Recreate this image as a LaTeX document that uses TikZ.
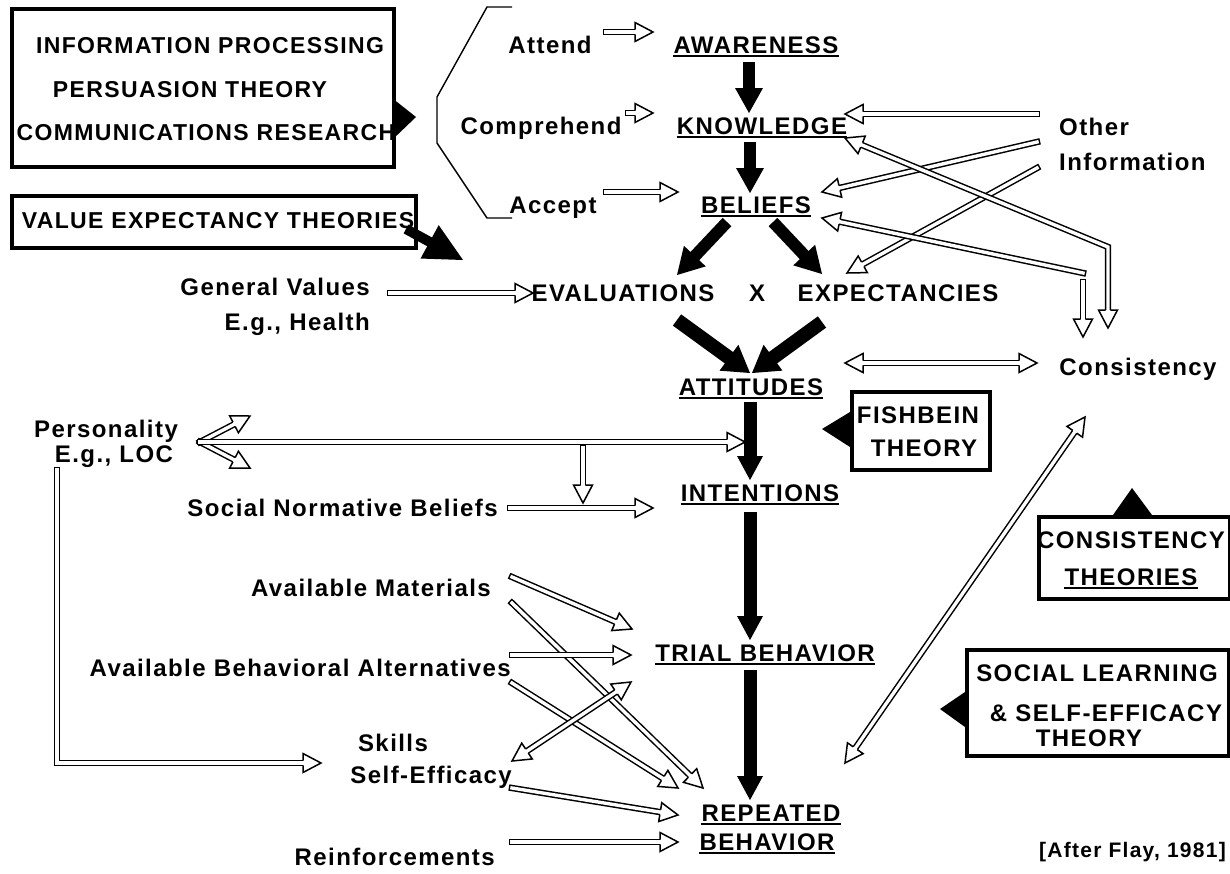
\documentclass[tikz,border=0pt]{standalone}
\usepackage{fontspec}
\usetikzlibrary{calc}
\newfontfamily\labfont[LetterSpace=6]{Liberation Sans}

\pgfdeclarelayer{paper}
\pgfdeclarelayer{links}
\pgfsetlayers{paper,links,main}

% open (outlined) arrow head: tip #1, pointing away from #2
\newcommand\openhead[2]{%
  \coordinate (hb) at ($(#1)!18pt!(#2)$);
  \fill[white] ($(hb)!9.5pt!90:(#1)$) -- (#1) -- ($(hb)!9.5pt!-90:(#1)$) -- cycle;
  \draw[hline] ($(hb)!2.45pt!90:(#1)$) -- ($(hb)!9.5pt!90:(#1)$) -- (#1)
     -- ($(hb)!9.5pt!-90:(#1)$) -- ($(hb)!2.45pt!-90:(#1)$);
}
% double-line arrow from #1 to #2
\newcommand\openarrow[2]{%
  \draw[dbl, shorten >=18pt] (#1) -- (#2);
  \openhead{#2}{#1}%
}
% double-line arrow with a head at both ends
\newcommand\bothopen[2]{%
  \draw[dbl, shorten >=18pt, shorten <=18pt] (#1) -- (#2);
  \openhead{#2}{#1}\openhead{#1}{#2}%
}
% solid arrow: from, to, stem width, head length, head half width
\newcommand\solidarrow[5]{%
  \coordinate (sb) at ($(#2)!#4!(#1)$);
  \draw[line width=#3] (#1) -- ($(#2)!#4-1pt!(#1)$);
  \fill ($(sb)!#5!90:(#2)$) -- (#2) -- ($(sb)!#5!-90:(#2)$) -- cycle;
}

\begin{document}
\begin{tikzpicture}[x=1pt,y=-1pt,
  lb/.style={font=\labfont\bfseries\fontsize{24}{27}\selectfont, inner sep=0pt},
  bx/.style={font=\labfont\bfseries\fontsize{23}{26}\selectfont, inner sep=0pt},
  bxr/.style={font=\labfont\bfseries\fontsize{24}{27}\selectfont, inner sep=0pt},
  note/.style={font=\labfont\bfseries\fontsize{21}{24}\selectfont, inner sep=0pt},
  theorybox/.style={draw, line width=3.5pt, inner sep=0pt, anchor=north west},
  dbl/.style={double, double distance=3.4pt, line width=1.5pt, line cap=rect},
  hline/.style={line width=1.5pt, line join=miter},
  uline/.style={line width=1.7pt},
  thinline/.style={line width=1.4pt}]

\begin{pgfonlayer}{paper}
  \fill[white] (0,0) rectangle (1230,873);
\end{pgfonlayer}
\useasboundingbox (0,0) rectangle (1230,873);

% ---------- theory boxes ----------
\node[theorybox, minimum width=382pt, minimum height=158pt] (ipbox) at (10,7) {};
\node[theorybox, minimum width=404pt, minimum height=52pt] (vebox) at (10,194) {};
\node[theorybox, minimum width=138pt, minimum height=78pt] (fbbox) at (850,390) {};
\node[theorybox, minimum width=191pt, minimum height=82pt] (ctbox) at (1037,515) {};
\node[theorybox, minimum width=262pt, minimum height=106pt] (slbox) at (965,648) {};

\node[bx, anchor=base] (ip1) at (210,53) {INFORMATION PROCESSING};
\node[bx, anchor=base] (ip2) at (190,97) {PERSUASION THEORY};
\node[bx, anchor=base] (ip3) at (206,140) {COMMUNICATIONS RESEARCH};
\node[bx, anchor=base] (ve1) at (218,228) {VALUE EXPECTANCY THEORIES};
\node[bxr, anchor=base] (fb1) at (918,423) {FISHBEIN};
\node[bxr, anchor=base] (fb2) at (924,456) {THEORY};
\node[bxr, anchor=base] (ct1) at (1131,548) {CONSISTENCY};
\node[bxr, anchor=base] (ct2) at (1131,585) {THEORIES};
\node[bxr, anchor=base] (sl1) at (1097,681) {SOCIAL LEARNING};
\node[bxr, anchor=base] (sl2) at (1106,721) {\& SELF-EFFICACY};
\node[bxr, anchor=base] (sl3) at (1089,746) {THEORY};
\node[note, anchor=base east] (cite) at (1226,857) {[After Flay, 1981]};

% pointers of the theory boxes
\fill (392,98) -- (416,117) -- (392,140) -- cycle;
\fill (850,412) -- (822,429) -- (850,447) -- cycle;
\fill (1113,515) -- (1132,488) -- (1152,515) -- cycle;
\fill (965,692) -- (940,709) -- (965,727) -- cycle;

% bracket of the information-processing steps
\draw[thinline] (512,7) -- (487,7) -- (437,97) -- (437,143) -- (487,218) -- (512,218);

% ---------- labels ----------
\node[lb, anchor=base] (attend) at (550,53) {Attend};
\node[lb, anchor=base] (aware) at (756,53) {AWARENESS};
\node[lb, anchor=base] (compr) at (541,134) {Comprehend};
\node[lb, anchor=base] (know) at (762,134) {KNOWLEDGE};
\node[lb, anchor=base] (accept) at (553,213) {Accept};
\node[lb, anchor=base] (belief) at (756,213) {BELIEFS};
\node[lb, anchor=base] (evals) at (623,301) {EVALUATIONS};
\node[lb, anchor=base] (times) at (757,301) {X};
\node[lb, anchor=base] (expect) at (898,301) {EXPECTANCIES};
\node[lb, anchor=base east] (genval) at (370,295) {General Values};
\node[lb, anchor=base east] (health) at (370,330) {E.g., Health};
\node[lb, anchor=base west] (other) at (1059,135) {Other};
\node[lb, anchor=base west] (inform) at (1059,170) {Information};
\node[lb, anchor=base] (attit) at (751,395) {ATTITUDES};
\node[lb, anchor=base] (consis) at (1138,375) {Consistency};
\node[lb, anchor=base] (person) at (106,437) {Personality};
\node[lb, anchor=base] (loc) at (114,462) {E.g., LOC};
\node[lb, anchor=base] (intent) at (760,501) {INTENTIONS};
\node[lb, anchor=base east] (social) at (498,516) {Social Normative Beliefs};
\node[lb, anchor=base east] (mater) at (491,596) {Available Materials};
\node[lb, anchor=base east] (altern) at (511,676) {Available Behavioral Alternatives};
\node[lb, anchor=base] (skills) at (393,751) {Skills};
\node[lb, anchor=base east] (selfeff) at (512,783) {Self-Efficacy};
\node[lb, anchor=base east] (reinf) at (495,865) {Reinforcements};
\node[lb, anchor=base] (trial) at (765,661) {TRIAL BEHAVIOR};
\node[lb, anchor=base] (repeat) at (771,821) {REPEATED};
\node[lb, anchor=base] (rbehav) at (767,850) {BEHAVIOR};

% underlines
\foreach \w in {aware,know,belief,attit,intent,trial,repeat,rbehav,ct2}
  \draw[uline] ([yshift=-3pt]\w.base west) -- ([yshift=-3pt]\w.base east);

% ---------- connector end points ----------
\coordinate (at0) at (606,32);   \coordinate (at1) at (653,32);
\coordinate (cp0) at (628,113);  \coordinate (cp1) at (653,113);
\coordinate (ac0) at (606,192);  \coordinate (ac1) at (678,192);
\coordinate (oi1a) at (1037,114); \coordinate (oi1b) at (845,114);
\coordinate (oi2a) at (1037,142); \coordinate (oi2b) at (822,192);
\coordinate (oi3a) at (1037,168); \coordinate (oi3b) at (847,273);
\coordinate (oi4a) at (845,138);  \coordinate (oi4k) at (1108,247); \coordinate (oi4b) at (1108,328);
\coordinate (oi5a) at (1083,273); \coordinate (oi5b) at (822,218);
\coordinate (oi5c) at (1083,282); \coordinate (oi5d) at (1083,337);
\coordinate (gv0) at (390,293);  \coordinate (gv1) at (533,293);
\coordinate (cs0) at (845,363);  \coordinate (cs1) at (1037,363);
\coordinate (ph) at (200,442);   \coordinate (ph1) at (250,416);
\coordinate (ph2) at (250,468);  \coordinate (ph3) at (745,442);
\coordinate (vn0) at (583,448);  \coordinate (vn1) at (583,503);
\coordinate (sn0) at (510,508);  \coordinate (sn1) at (653,508);
\coordinate (pl0) at (57,470);   \coordinate (plk) at (57,763); \coordinate (pl1) at (321,763);
\coordinate (am0) at (512,577);  \coordinate (am1) at (632,629);
\coordinate (am2) at (512,603);  \coordinate (am3) at (703,788);
\coordinate (ab0) at (512,655);  \coordinate (ab1) at (631,655);
\coordinate (ab2) at (512,683);  \coordinate (ab3) at (678,788);
\coordinate (se0) at (512,761);  \coordinate (se1) at (631,682);
\coordinate (se2) at (512,788);  \coordinate (se3) at (678,815);
\coordinate (rf0) at (512,842);  \coordinate (rf1) at (678,842);
\coordinate (cr0) at (845,763);  \coordinate (cr1) at (1085,417);

\coordinate (s1a) at (749,62);   \coordinate (s1b) at (749,113);
\coordinate (s2a) at (750,142);  \coordinate (s2b) at (750,193);
\coordinate (s3a) at (727,222);  \coordinate (s3b) at (677,275);
\coordinate (s4a) at (773,222);  \coordinate (s4b) at (822,274);
\coordinate (s5a) at (677,320);  \coordinate (s5b) at (750,373);
\coordinate (s6a) at (822,322);  \coordinate (s6b) at (752,373);
\coordinate (s7a) at (750,402);  \coordinate (s7b) at (750,480);
\coordinate (s8a) at (750,512);  \coordinate (s8b) at (750,640);
\coordinate (s9a) at (750,670);  \coordinate (s9b) at (750,800);
\coordinate (vp0) at (406,229);  \coordinate (vp1) at (463,260);

% ---------- connectors ----------
\begin{pgfonlayer}{links}
  \openarrow{at0}{at1}
  \openarrow{cp0}{cp1}
  \openarrow{ac0}{ac1}
  \openarrow{oi1a}{oi1b}
  \openarrow{oi2a}{oi2b}
  \openarrow{oi3a}{oi3b}
  \draw[dbl, shorten >=18pt, shorten <=18pt] (oi4a) -- (oi4k) -- (oi4b);
  \openhead{oi4a}{oi4k}\openhead{oi4b}{oi4k}
  \openarrow{oi5a}{oi5b}
  \openarrow{oi5c}{oi5d}
  \openarrow{gv0}{gv1}
  \bothopen{cs0}{cs1}
  \openarrow{ph}{ph1}
  \openarrow{ph}{ph2}
  \openarrow{ph}{ph3}
  \openarrow{vn0}{vn1}
  \openarrow{sn0}{sn1}
  \draw[dbl, shorten >=18pt] (pl0) -- (plk) -- (pl1);
  \openhead{pl1}{plk}
  \openarrow{am0}{am1}
  \openarrow{am2}{am3}
  \openarrow{ab0}{ab1}
  \openarrow{ab2}{ab3}
  \bothopen{se0}{se1}
  \openarrow{se2}{se3}
  \openarrow{rf0}{rf1}
  \bothopen{cr0}{cr1}

  \solidarrow{s1a}{s1b}{12pt}{25pt}{14pt}
  \solidarrow{s2a}{s2b}{12pt}{25pt}{14pt}
  \solidarrow{s3a}{s3b}{12pt}{26pt}{15pt}
  \solidarrow{s4a}{s4b}{12pt}{26pt}{15pt}
  \solidarrow{s5a}{s5b}{14pt}{26pt}{16pt}
  \solidarrow{s6a}{s6b}{14pt}{26pt}{16pt}
  \solidarrow{s7a}{s7b}{13pt}{24pt}{13pt}
  \solidarrow{s8a}{s8b}{13pt}{24pt}{13pt}
  \solidarrow{s9a}{s9b}{13pt}{24pt}{13pt}
  \solidarrow{vp0}{vp1}{10pt}{38pt}{19pt}
\end{pgfonlayer}
\end{tikzpicture}
\end{document}
